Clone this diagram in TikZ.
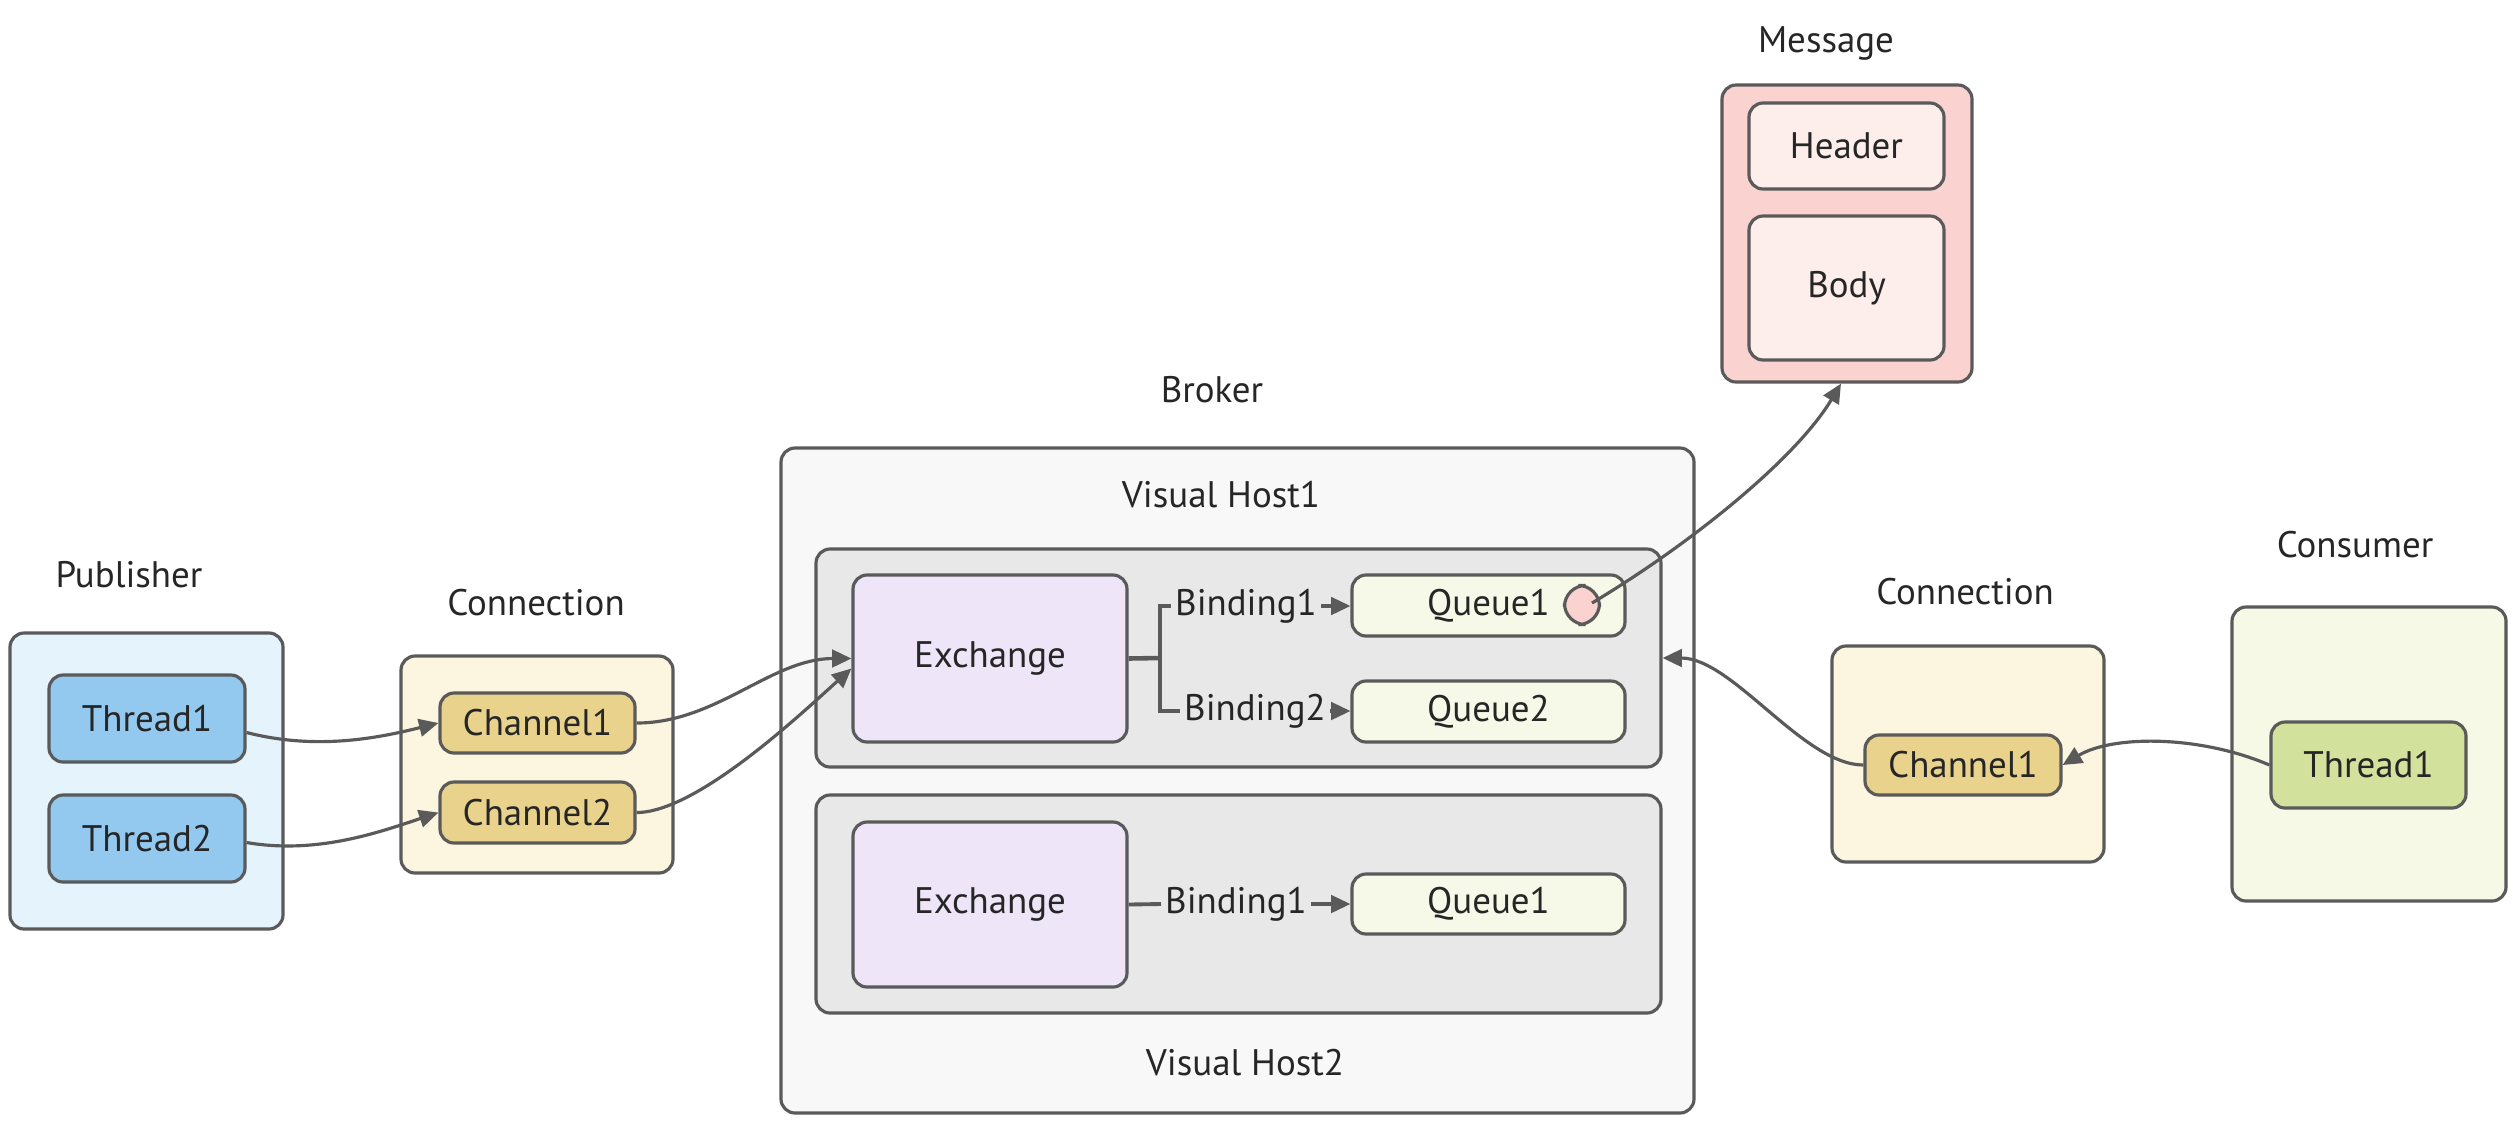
\documentclass[tikz,border=0pt]{standalone}
\usepackage{fontspec}
\setmainfont{PT Sans}
\usetikzlibrary{arrows.meta,calc}
\definecolor{ln}{HTML}{5A5A5A}
\definecolor{txt}{HTML}{262626}
\definecolor{pubfill}{HTML}{E5F4FC}
\definecolor{thrfill}{HTML}{93C9EE}
\definecolor{confill}{HTML}{FCF5E0}
\definecolor{chfill}{HTML}{E9D38C}
\definecolor{brfill}{HTML}{F8F8F8}
\definecolor{vhfill}{HTML}{E8E8E8}
\definecolor{exfill}{HTML}{EEE6F8}
\definecolor{qfill}{HTML}{F6F9E7}
\definecolor{msgfill}{HTML}{FAD3D1}
\definecolor{hdfill}{HTML}{FDEEEC}
\definecolor{csfill}{HTML}{F5F9E6}
\definecolor{cthfill}{HTML}{D2E19C}
% \bx{style}{x1}{y1}{x2}{y2}{name}{text}
\newcommand\bx[7]{%
  \node[#1, minimum width={(#4-#2)*0.01cm}, minimum height={(#5-#3)*0.01cm}]
    (#6) at ({(#2+#4)/2},{(#3+#5)/2}) {#7};}
\begin{document}
\begin{tikzpicture}[x=0.01cm,y=-0.01cm,
  font=\fontsize{10.5}{12}\selectfont, text=txt,
  box/.style={draw=ln, line width=0.9pt, rounded corners=4pt, inner sep=0pt},
  arr/.style={draw=ln, line width=0.9pt, -{Triangle[length=5.5pt,width=5pt]}},
  lnk/.style={draw=ln, line width=0.9pt},
  lbl/.style={inner sep=1pt}]
\useasboundingbox[fill=white] (0,0) rectangle (2514,1120);

% Publisher
\node[lbl] (publbl) at (129,575) {Publisher};
\bx{box, fill=pubfill}{10}{633}{283}{929}{pub}{}
\bx{box, fill=thrfill}{49}{675}{245}{762}{pt1}{Thread1}
\bx{box, fill=thrfill}{49}{795}{245}{882}{pt2}{Thread2}

% Connection (left)
\node[lbl] (conlbl) at (536,603) {Connection};
\bx{box, fill=confill}{401}{656}{673}{873}{con}{}
\bx{box, fill=chfill}{440}{693}{635}{753}{pc1}{Channel1}
\bx{box, fill=chfill}{440}{782}{635}{843}{pc2}{Channel2}

% Broker
\node[lbl] (brlbl) at (1212,390) {Broker};
\bx{box, fill=brfill}{781}{448}{1694}{1113}{br}{}
\node[lbl] (vh1lbl) at (1221,495) {Visual Host1};
\node[lbl] (vh2lbl) at (1245,1063) {Visual Host2};
\bx{box, fill=vhfill}{816}{549}{1661}{767}{vh1}{}
\bx{box, fill=vhfill}{816}{795}{1661}{1013}{vh2}{}
\bx{box, fill=exfill}{853}{575}{1127}{742}{ex1}{Exchange}
\bx{box, fill=exfill}{853}{822}{1127}{987}{ex2}{Exchange}
\bx{box, fill=qfill}{1352}{575}{1625}{636}{q1}{Queue1}
\bx{box, fill=qfill}{1352}{681}{1625}{742}{q2}{Queue2}
\bx{box, fill=qfill}{1352}{874}{1625}{934}{q3}{Queue1}
\node[draw=ln, line width=0.9pt, fill=msgfill, rounded corners=6pt,
      minimum width=0.35cm, minimum height=0.39cm, inner sep=0pt] (circ) at (1582,605) {};

\node[lbl] (b1) at (1246,606) {Binding1};
\node[lbl] (b2) at (1255,711) {Binding2};
\node[lbl] (b3) at (1236,904) {Binding1};
\coordinate (fk) at (1160,658);
\draw[lnk, line width=1.3pt] (ex1.east) -- (fk);
\draw[lnk] (b1.west) -| (fk) |- (b2.west);
\draw[arr] (b1.east) -- (b1.east -| q1.west);
\draw[arr] (b2.east) -- (b2.east -| q2.west);
\draw[lnk, line width=1.1pt] (ex2.east) -- (b3.west);
\draw[arr] (b3.east) -- (b3.east -| q3.west);

% Message
\node[lbl] (msglbl) at (1826,43) {Message};
\bx{box, fill=msgfill}{1722}{85}{1972}{382}{msg}{}
\bx{box, fill=hdfill}{1749}{103}{1944}{189}{hd}{Header}
\bx{box, fill=hdfill}{1749}{216}{1944}{360}{bd}{Body}

% Connection (right)
\node[lbl] (con2lbl) at (1965,592) {Connection};
\bx{box, fill=confill}{1832}{646}{2104}{862}{con2}{}
\bx{box, fill=chfill}{1865}{735}{2061}{795}{cc1}{Channel1}

% Consumer
\node[lbl] (cslbl) at (2355,545) {Consumer};
\bx{box, fill=csfill}{2232}{607}{2506}{901}{cs}{}
\bx{box, fill=cthfill}{2271}{722}{2466}{808}{ct1}{Thread1}

% connectors
\draw[arr] ($(pt1.east)+(0,14)$) .. controls +(70,18) and +(-60,15) .. (pc1.west);
\draw[arr] ($(pt2.east)+(0,4)$) .. controls +(70,12) and +(-60,20) .. (pc2.west);
\draw[arr] (pc1.east) .. controls +(80,0) and +(-80,0) .. (ex1.west);
\draw[arr] (pc2.east) .. controls +(60,0) and +(-50,45) .. ($(ex1.west)+(0,10)$);
\draw[arr] ($(circ.center)+(10,-2)$) .. controls +(100,-60) and +(-45,75) .. ($(msg.south)+(-6,0)$);
\draw[arr] (ct1.west) .. controls +(-70,-30) and +(50,-30) .. (cc1.east);
\draw[arr] (cc1.west) .. controls +(-60,0) and +(70,0) .. (vh1.east);
\end{tikzpicture}
\end{document}
